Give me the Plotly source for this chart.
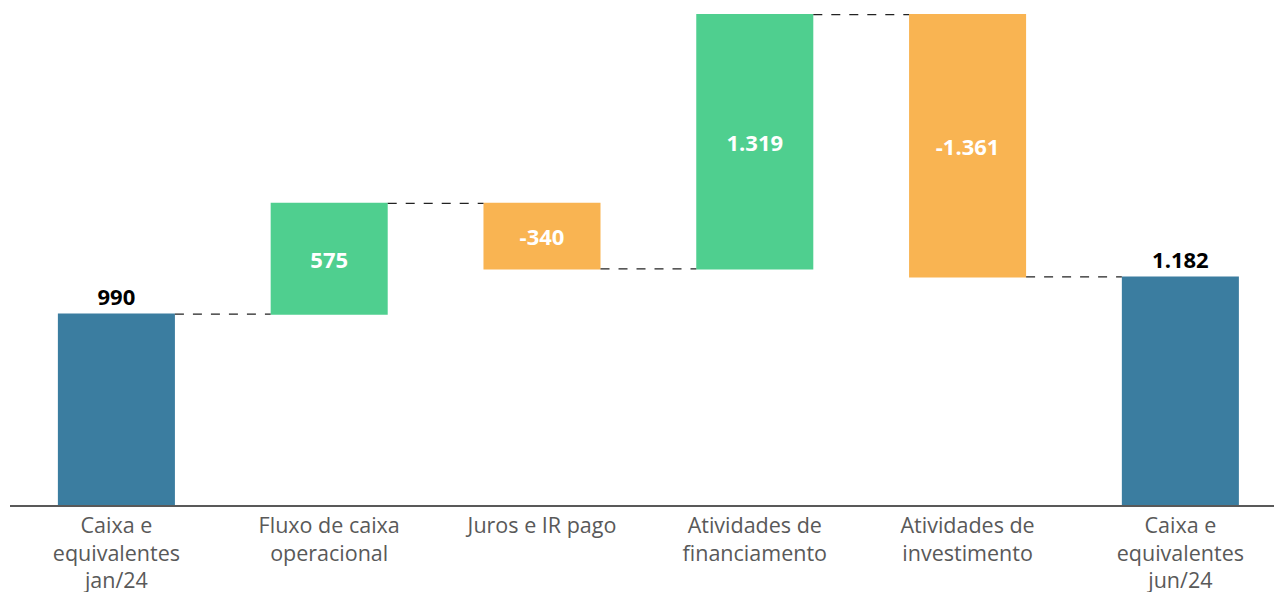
import plotly.graph_objects as go

categories = ["Caixa e<br>equivalentes<br>jan/24", "Fluxo de caixa<br>operacional", "Juros e IR pago",
              "Atividades de<br>financiamento", "Atividades de<br>investimento", "Caixa e<br>equivalentes<br>jun/24"]
values = [990, 575, -340, 1319, -1361, 1182]
measures = ["absolute", "relative", "relative", "relative", "relative", "absolute"]

labels = [f"{v:,}".replace(",", ".") for v in values]
positions = ["outside" if m == "absolute" else "inside" for m in measures]

fig = go.Figure(go.Waterfall(
    x=list(range(len(categories))),
    y=values,
    measure=measures,
    text=labels,
    textposition=positions,
    insidetextanchor="middle",
    textfont=dict(family="Open Sans", size=22),
    insidetextfont=dict(family="Open Sans", size=22, color="white", weight="bold"),
    outsidetextfont=dict(family="Open Sans", size=22, color="black", weight="bold"),
    cliponaxis=False,
    width=0.55,
    increasing=dict(marker=dict(color="#4FCF8F")),
    decreasing=dict(marker=dict(color="#F9B452")),
    totals=dict(marker=dict(color="#3B7DA0")),
    connector=dict(mode="between", line=dict(color="#222222", width=1.2, dash="dash")),
    hoverinfo="skip",
))

fig.update_layout(
    width=1277, height=592,
    margin=dict(l=10, r=3, t=5, b=87),
    paper_bgcolor="white", plot_bgcolor="white",
    showlegend=False,
    xaxis=dict(
        tickmode="array", tickvals=list(range(len(categories))), ticktext=categories,
        range=[-0.5, 5.44], showgrid=False, zeroline=False, automargin=False,
        showline=True, linecolor="#595959", linewidth=1.5,
        tickfont=dict(family="Open Sans", size=21.5, color="#595959"),
        ticks="", ticklen=0, ticklabelstandoff=0,
    ),
    yaxis=dict(range=[0, 2594], visible=False, showgrid=False, zeroline=False, automargin=False),
)

fig.write_html("out.html", config={"displayModeBar": False},
               post_script="document.body.style.margin='0';document.body.style.padding='0';")
